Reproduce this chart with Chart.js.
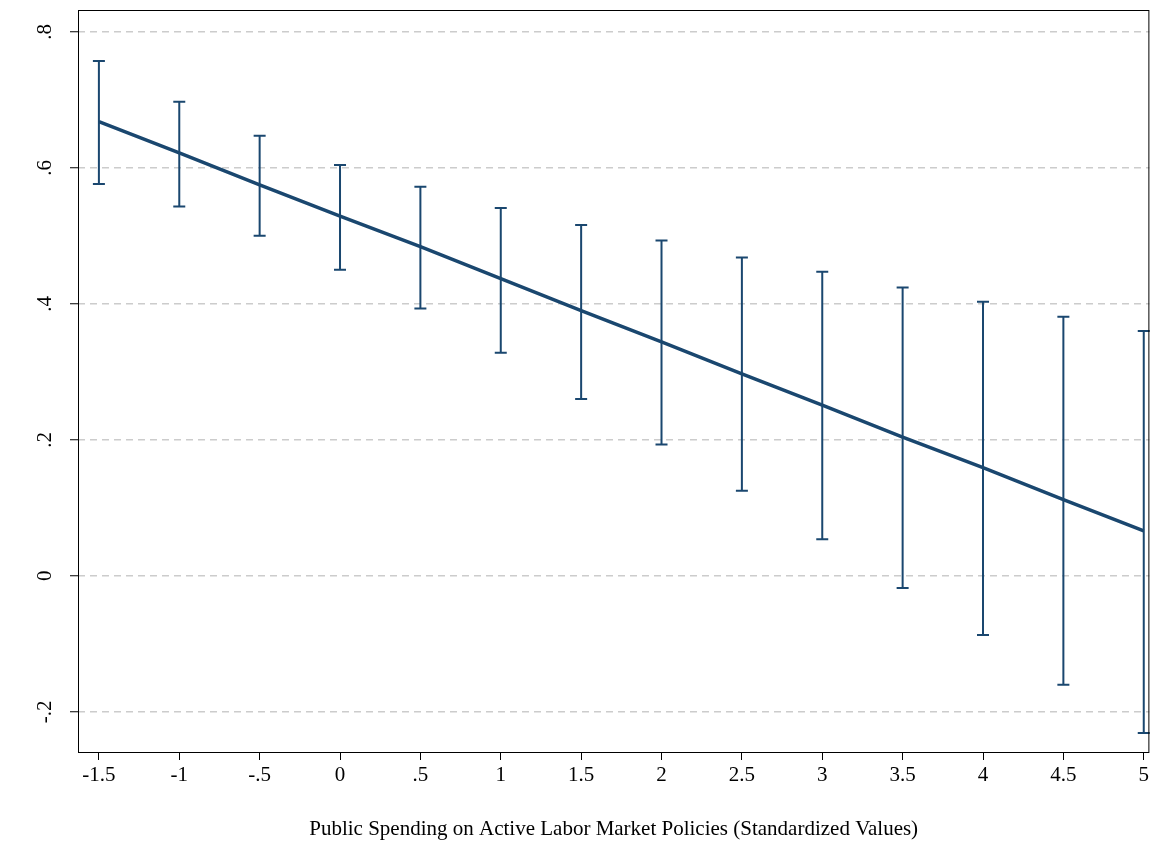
<!DOCTYPE html>
<html><head><meta charset="utf-8">
<script src="https://cdn.jsdelivr.net/npm/chart.js@4"></script>
<style>html,body{margin:0;padding:0;background:#fff}#w{width:1152px;height:846px}</style>
</head><body><div id="w"><canvas id="c"></canvas></div>
<script>
const xs = [-1.5,-1,-0.5,0,0.5,1,1.5,2,2.5,3,3.5,4,4.5,5];
const est = [0.668,0.622,0.575,0.529,0.484,0.437,0.390,0.344,0.297,0.251,0.204,0.159,0.112,0.066];
const upper = [0.757,0.697,0.647,0.604,0.572,0.541,0.516,0.493,0.468,0.447,0.424,0.403,0.381,0.360];
const lower = [0.576,0.543,0.500,0.450,0.393,0.328,0.260,0.193,0.125,0.054,-0.018,-0.087,-0.160,-0.231];
const yTicks = [-0.2,0,0.2,0.4,0.6,0.8];
const xTitle = 'Public Spending on Active Labor Market Policies (Standardized Values)';
const col = '#1a476f';
const fmt = v => { let s = String(Math.round(v*10)/10); return s.replace(/^0\./,'.').replace(/^-0\./,'-.'); };
const FONT = '"Liberation Serif", "Times New Roman", serif';

const plug = {
  id:'extras',
  afterDatasetsDraw(ch){
    const c=ch.ctx, x=ch.scales.x, y=ch.scales.y, a=ch.chartArea;
    c.save();
    c.strokeStyle=col; c.lineWidth=2;
    xs.forEach((v,i)=>{
      const px=x.getPixelForValue(v), pu=y.getPixelForValue(upper[i]), pl=y.getPixelForValue(lower[i]);
      c.beginPath(); c.moveTo(px,pu); c.lineTo(px,pl);
      c.moveTo(px-6,pu); c.lineTo(px+6,pu); c.moveTo(px-6,pl); c.lineTo(px+6,pl); c.stroke();
    });
    c.strokeStyle='#000'; c.lineWidth=1;
    c.strokeRect(a.left+0.5,a.top+0.5,a.right-a.left-1,a.bottom-a.top);
    c.fillStyle='#000'; c.font='21px '+FONT; c.textAlign='center'; c.textBaseline='middle';
    yTicks.forEach(v=>{
      const py=y.getPixelForValue(v);
      c.save(); c.translate(45,py); c.rotate(-Math.PI/2); c.fillText(fmt(v),0,0); c.restore();
    });
    c.restore();
  }
};

new Chart(document.getElementById('c'),{
  type:'line',
  data:{datasets:[{data:xs.map((v,i)=>({x:v,y:est[i]})),borderColor:col,borderWidth:3.5,pointRadius:0,tension:0,fill:false}]},
  options:{
    responsive:true,maintainAspectRatio:false,animation:false,
    layout:{padding:{top:10,right:0,left:0,bottom:0}},
    plugins:{legend:{display:false},tooltip:{enabled:false}},
    scales:{
      x:{type:'linear',min:-1.63,max:5.035,
        afterBuildTicks:s=>{s.ticks=xs.map(v=>({value:v}));},
        afterFit:s=>{s.height=94;},
        border:{display:false},
        grid:{drawOnChartArea:false,tickLength:8,tickColor:'#000'},
        ticks:{callback:v=>fmt(v),color:'#000',font:{family:FONT,size:21},maxRotation:0,autoSkip:false,padding:3},
        title:{display:true,text:xTitle,color:'#000',font:{family:FONT,size:21},padding:{top:26}}
      },
      y:{type:'linear',min:-0.259,max:0.832,
        afterBuildTicks:s=>{s.ticks=yTicks.map(v=>({value:v}));},
        afterFit:s=>{s.width=78;},
        border:{display:false,dash:[7,5]},
        grid:{color:'#cccccc',lineWidth:1.5,tickLength:8,tickColor:'#000',tickBorderDash:[0,0],tickWidth:1},
        ticks:{color:'rgba(0,0,0,0)',font:{size:1}}
      }
    }
  },
  plugins:[plug]
});
</script></body></html>
